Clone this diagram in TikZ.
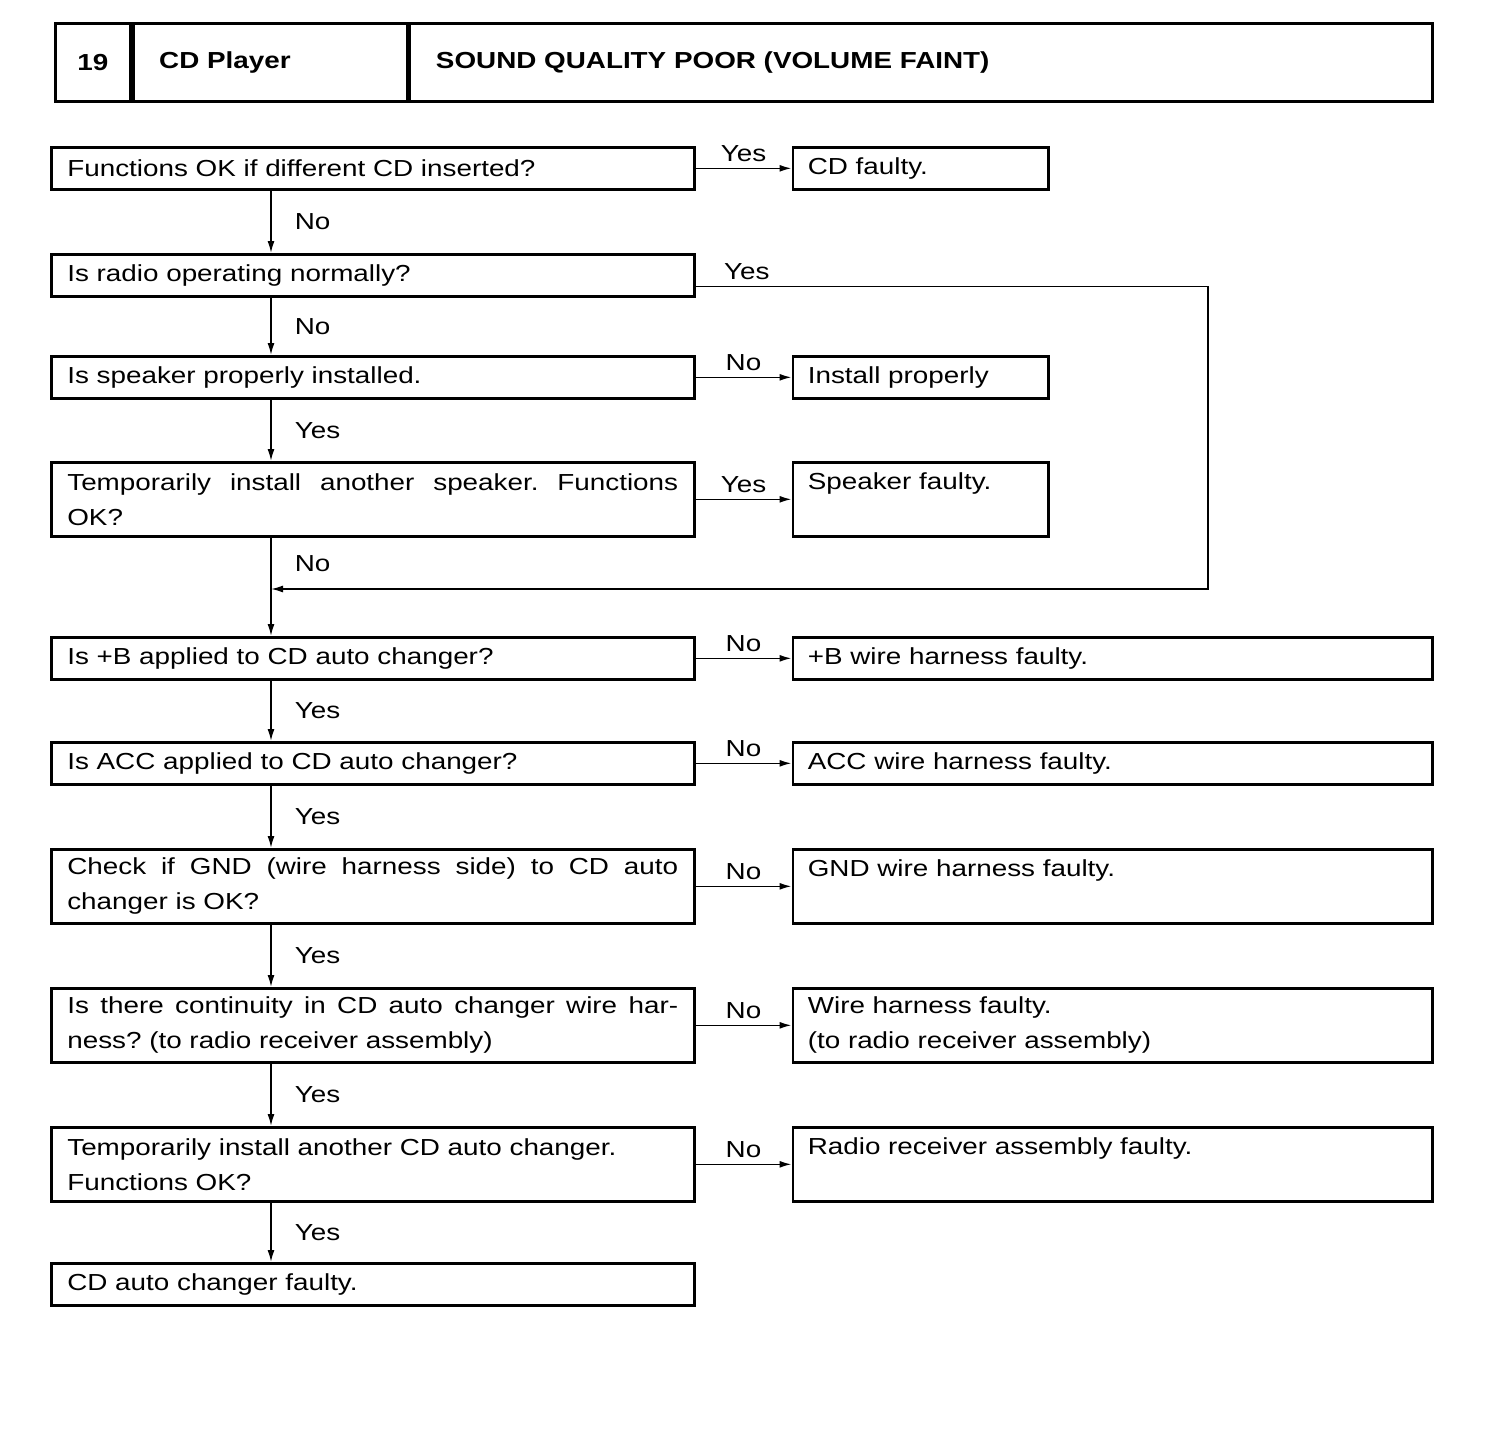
\documentclass[tikz,border=0pt]{standalone}
\usepackage{fontspec}
\setmainfont{Liberation Sans}[FakeStretch=1.2]
\usetikzlibrary{arrows.meta,positioning}
\frenchspacing

\begin{document}
\begin{tikzpicture}[x=0.02cm,y=-0.02cm,font=\fontsize{13.2}{19.9}\selectfont,
  hdr/.style={draw,line width=1.6pt,anchor=north west,minimum height=1.56cm,inner xsep=0.52cm,inner ysep=0pt,align=left,font=\fontsize{13.2}{19.9}\selectfont\bfseries},
  qbox/.style={draw,line width=1.5pt,anchor=north west,text width=12.22cm,inner xsep=0.32cm,inner ysep=0pt,minimum height=0.84cm,align=justify},
  qtall/.style={qbox,minimum height=1.48cm},
  ans/.style={draw,line width=1.5pt,inner xsep=0.3cm,inner ysep=0pt,minimum height=0.84cm,align=left},
  smallans/.style={ans,text width=4.52cm},
  wideans/.style={ans,text width=12.2cm},
  topt/.style={text height=0.54cm,text depth=0.94cm},
  arr/.style={-{Latex[length=0.24cm,width=0.14cm]},line width=0.9pt},
  hlbl/.style={inner sep=0pt,above=0.12cm},
  vlbl/.style={inner sep=0pt,right=0.46cm}]
\useasboundingbox (0,0) rectangle (1504,1444);
% ---- header strip ----
\node[hdr,minimum width=1.5cm,inner xsep=0pt,align=center] (hnum) at (54,22) {19};
\node[hdr,text width=4.44cm] (hsys) at (hnum.north east) {CD Player};
\node[hdr,text width=19.42cm] (htitle) at (hsys.north east) {SOUND QUALITY POOR (VOLUME FAINT)};
% ---- question column ----
\coordinate (sp) at (271,0);
\coordinate (turn) at (1208,589);
\coordinate (mrg) at (271,589);
\node[qbox] (q1) at (50,146) {Functions OK if different CD inserted?};
\node[qbox] (q2) at (50,253) {Is radio operating normally?};
\node[qbox] (q3) at (50,355) {Is speaker properly installed.};
\node[qtall] (q4) at (50,461) {Temporarily install another speaker. Functions\linebreak OK?};
\node[qbox] (q5) at (50,636) {Is +B applied to CD auto changer?};
\node[qbox] (q6) at (50,741) {Is ACC applied to CD auto changer?};
\node[qtall] (q7) at (50,848) {Check if GND (wire harness side) to CD auto\linebreak changer is OK?};
\node[qtall] (q8) at (50,987) {Is there continuity in CD auto changer wire har-\linebreak ness? (to radio receiver assembly)};
\node[qtall,align=left] (q9) at (50,1126) {Temporarily install another CD auto changer.\\Functions OK?};
\node[qbox] (q10) at (50,1262) {CD auto changer faulty.};
% ---- answer column ----
\node[smallans,right=1.92cm of q1] (r1) {CD faulty.};
\node[smallans,right=1.92cm of q3] (r3) {Install properly};
\node[smallans,topt,right=1.92cm of q4] (r4) {Speaker faulty.};
\node[wideans,right=1.92cm of q5] (r5) {+B wire harness faulty.};
\node[wideans,right=1.92cm of q6] (r6) {ACC wire harness faulty.};
\node[wideans,topt,right=1.92cm of q7] (r7) {GND wire harness faulty.};
\node[wideans,minimum height=1.48cm,right=1.92cm of q8] (r8) {Wire harness faulty.\\(to radio receiver assembly)};
\node[wideans,topt,right=1.92cm of q9] (r9) {Radio receiver assembly faulty.};
% ---- down the spine ----
\draw[arr] (q1.south -| sp) -- node[vlbl]{No} (q2.north -| sp);
\draw[arr] (q2.south -| sp) -- node[vlbl]{No} (q3.north -| sp);
\draw[arr] (q3.south -| sp) -- node[vlbl]{Yes} (q4.north -| sp);
\draw[arr] (q4.south -| sp) -- node[vlbl]{No} (mrg) -- (q5.north -| sp);
\draw[arr] (q5.south -| sp) -- node[vlbl]{Yes} (q6.north -| sp);
\draw[arr] (q6.south -| sp) -- node[vlbl]{Yes} (q7.north -| sp);
\draw[arr] (q7.south -| sp) -- node[vlbl]{Yes} (q8.north -| sp);
\draw[arr] (q8.south -| sp) -- node[vlbl]{Yes} (q9.north -| sp);
\draw[arr] (q9.south -| sp) -- node[vlbl]{Yes} (q10.north -| sp);
% ---- side branches ----
\draw[arr] (q1.east) -- node[hlbl]{Yes} (r1.west);
\draw[arr] ([yshift=-0.22cm]q2.east) -| node[hlbl,pos=0.05]{Yes} (turn) -- (mrg);
\draw[arr] (q3.east) -- node[hlbl]{No} (r3.west);
\draw[arr] (q4.east) -- node[hlbl]{Yes} (r4.west);
\draw[arr] (q5.east) -- node[hlbl]{No} (r5.west);
\draw[arr] (q6.east) -- node[hlbl]{No} (r6.west);
\draw[arr] (q7.east) -- node[hlbl]{No} (r7.west);
\draw[arr] (q8.east) -- node[hlbl]{No} (r8.west);
\draw[arr] (q9.east) -- node[hlbl]{No} (r9.west);
\end{tikzpicture}
\end{document}
